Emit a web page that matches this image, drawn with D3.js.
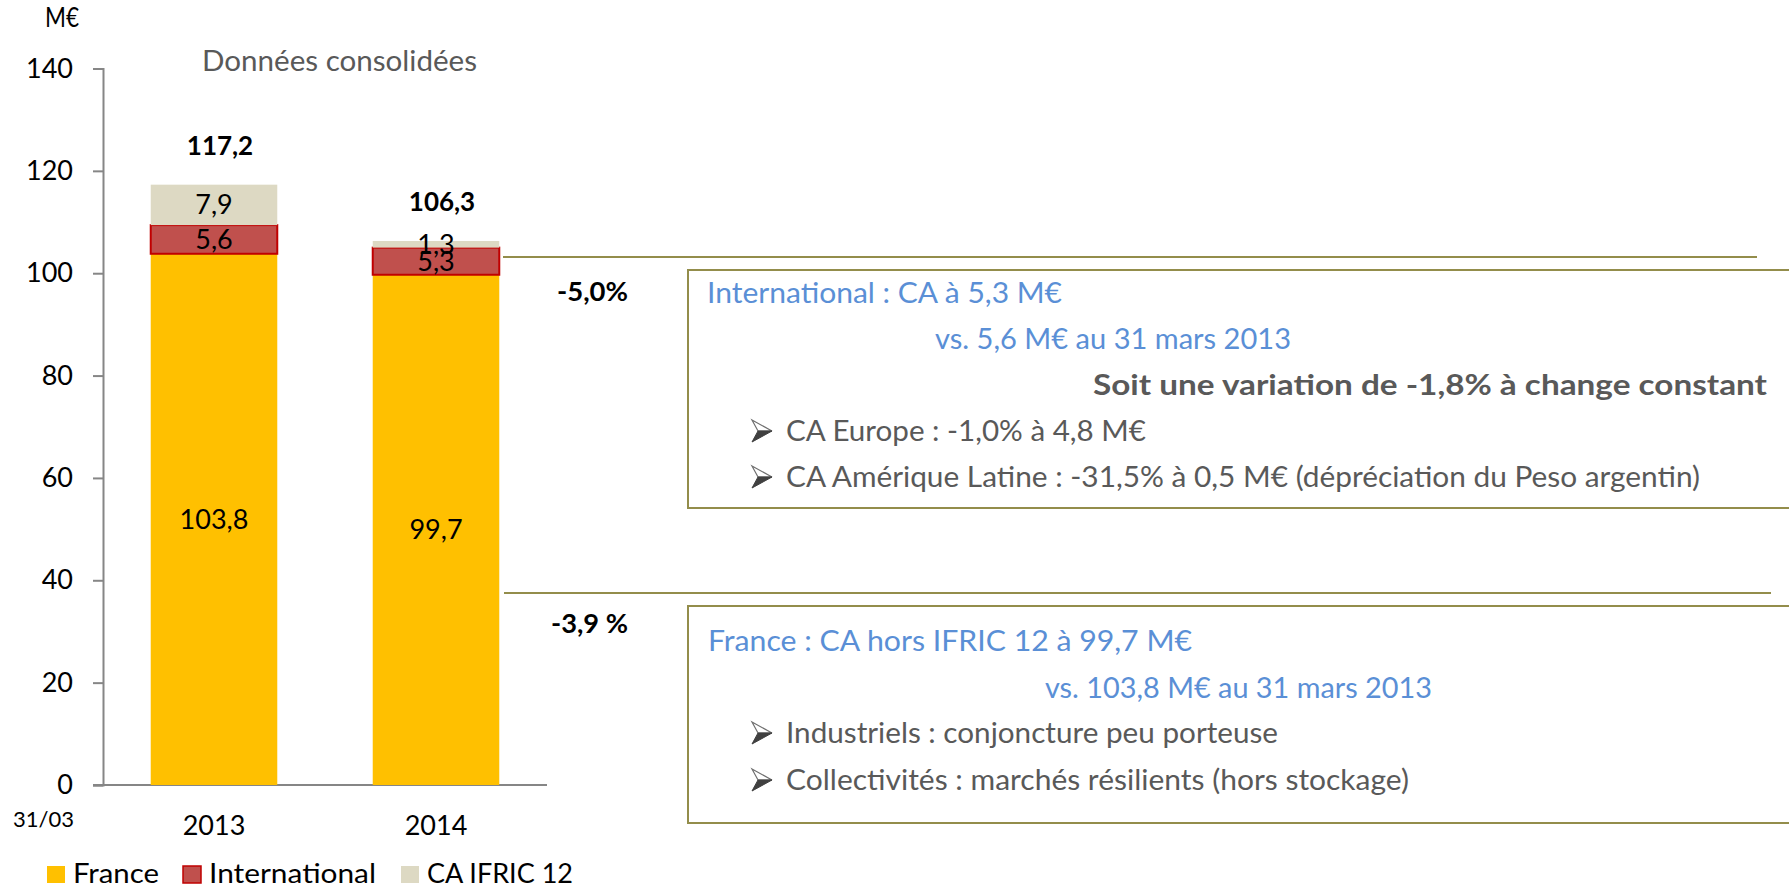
<!DOCTYPE html>
<html>
<head>
<meta charset="utf-8">
<script src="https://cdn.jsdelivr.net/npm/d3@7"></script>
<style>
  body { margin: 0; background: #fff; }
  svg { display: block; font-family: Lato, "Open Sans", sans-serif; }
</style>
</head>
<body>
<div id="chart"></div>
<script>
// Chiffre d'affaires au 31/03 - barres empilées + commentaires
const years = ["2013", "2014"];
const france = [103.8, 99.7];
const international = [5.6, 5.3];
const ifric = [7.9, 1.3];
const totals = [117.2, 106.3];
const yTicks = [0, 20, 40, 60, 80, 100, 120, 140];
const seriesNames = ["France", "International", "CA IFRIC 12"];
const variations = ["-5,0%", "-3,9 %"];

const width = 1789, height = 888;
const colors = { France: "#FFC000", International: "#C0504D", "CA IFRIC 12": "#DDD9C3" };
const olive = "#938D4B";
const blue = "#5A8FD6";
const grey = "#595959";

const svg = d3.select("#chart").append("svg")
    .attr("width", width)
    .attr("height", height);

const x = d3.scaleBand()
    .domain(years)
    .range([103, 547])
    .paddingInner(0.43)
    .paddingOuter(0.215);

const y = d3.scaleLinear()
    .domain([0, 140])
    .range([785, 68.5]);

const rows = years.map((yr, i) => ({
    year: yr,
    France: france[i],
    International: international[i],
    "CA IFRIC 12": ifric[i],
    total: totals[i]
}));

const stack = d3.stack().keys(seriesNames)(rows);

// axes
const yAxis = svg.append("g")
    .attr("transform", "translate(103,0)")
    .call(d3.axisLeft(y).tickValues(yTicks).tickSize(10).tickPadding(20));
yAxis.select(".domain").attr("stroke", "#868686").attr("stroke-width", 2);
yAxis.selectAll(".tick line").attr("stroke", "#868686").attr("stroke-width", 2);
yAxis.selectAll(".tick text")
    .style("font-family", "Lato, sans-serif")
    .style("font-size", "27px")
    .attr("fill", "#000");

svg.append("line")
    .attr("x1", 93).attr("x2", 547)
    .attr("y1", y(0)).attr("y2", y(0))
    .attr("stroke", "#868686").attr("stroke-width", 2);

// bars
svg.selectAll("g.layer")
    .data(stack)
    .join("g")
    .attr("class", "layer")
    .attr("fill", d => colors[d.key])
    .attr("stroke", d => d.key === "International" ? "#C00000" : "none")
    .attr("stroke-width", 2)
    .selectAll("rect")
    .data(d => d)
    .join("rect")
    .attr("x", d => x(d.data.year))
    .attr("width", x.bandwidth())
    .attr("y", d => y(d[1]))
    .attr("height", d => y(d[0]) - y(d[1]));

// segment labels
stack.forEach(layer => {
    svg.selectAll(null)
        .data(layer)
        .join("text")
        .attr("x", d => x(d.data.year) + x.bandwidth() / 2)
        .attr("y", d => y((d[0] + d[1]) / 2))
        .attr("dy", "0.35em")
        .attr("text-anchor", "middle")
        .style("font-size", "27px")
        .attr("fill", "#000")
        .text(d => d3.format(".1f")(d[1] - d[0]).replace(".", ","));
});

// totals
svg.selectAll("text.total")
    .data(rows)
    .join("text")
    .attr("class", "total")
    .attr("x", d => x(d.year) + x.bandwidth() / 2 + 6)
    .attr("y", d => y(d.total) - 30)
    .attr("text-anchor", "middle")
    .style("font-size", "26px")
    .style("font-weight", "bold")
    .text(d => d3.format(".1f")(d.total).replace(".", ","));

// x labels
svg.selectAll("text.xlab")
    .data(years)
    .join("text")
    .attr("class", "xlab")
    .attr("x", d => x(d) + x.bandwidth() / 2)
    .attr("y", 835)
    .attr("text-anchor", "middle")
    .style("font-size", "27px")
    .text(d => d);

svg.append("text").attr("x", 13).attr("y", 827)
    .style("font-size", "22px").text("31/03");
svg.append("text").attr("x", 45).attr("y", 27)
    .style("font-size", "27px")
    .attr("textLength", 34).attr("lengthAdjust", "spacingAndGlyphs")
    .text("M€");
svg.append("text").attr("x", 202).attr("y", 71)
    .style("font-size", "29px").attr("fill", grey)
    .attr("textLength", 275).attr("lengthAdjust", "spacingAndGlyphs")
    .text("Données consolidées");

// legend
const legendX = [47, 183, 401];
const legendW = [86, 167, 146];
const lg = svg.selectAll("g.legend")
    .data(seriesNames)
    .join("g")
    .attr("class", "legend")
    .attr("transform", (d, i) => `translate(${legendX[i]},866)`);
lg.append("rect")
    .attr("width", 18).attr("height", 17)
    .attr("fill", d => colors[d])
    .attr("stroke", d => d === "International" ? "#C00000" : "none")
    .attr("stroke-width", 1.5);
lg.append("text")
    .attr("x", 26).attr("y", 17)
    .style("font-size", "27px")
    .attr("textLength", (d, i) => legendW[i])
    .attr("lengthAdjust", "spacingAndGlyphs")
    .text(d => d);

// connecting lines
svg.append("line")
    .attr("x1", 503).attr("x2", 1757)
    .attr("y1", 257).attr("y2", 257)
    .attr("stroke", olive).attr("stroke-width", 2);
svg.append("line")
    .attr("x1", 504).attr("x2", 1771)
    .attr("y1", 593).attr("y2", 593)
    .attr("stroke", olive).attr("stroke-width", 2);

// variation labels
svg.append("text").attr("x", 557).attr("y", 301)
    .style("font-size", "26px").style("font-weight", "bold")
    .attr("textLength", 71).attr("lengthAdjust", "spacingAndGlyphs")
    .text(variations[0]);
svg.append("text").attr("x", 551).attr("y", 633)
    .style("font-size", "26px").style("font-weight", "bold")
    .attr("textLength", 77).attr("lengthAdjust", "spacingAndGlyphs")
    .text(variations[1]);

// comment boxes
svg.append("rect").attr("x", 688).attr("y", 270).attr("width", 1110).attr("height", 238)
    .attr("fill", "none").attr("stroke", olive).attr("stroke-width", 2);
svg.append("rect").attr("x", 688).attr("y", 606).attr("width", 1110).attr("height", 217)
    .attr("fill", "none").attr("stroke", olive).attr("stroke-width", 2);

const lines1 = [
    { x: 707, y: 303, text: "International : CA à 5,3 M€", fill: blue, w: 355 },
    { x: 935, y: 349, text: "vs. 5,6 M€ au 31 mars 2013", fill: blue, w: 356 },
    { x: 1093, y: 395, text: "Soit une variation de -1,8% à change constant", fill: grey, bold: true, w: 674 },
    { x: 786, y: 441, text: "CA Europe : -1,0% à 4,8 M€", fill: grey, arrow: true, w: 360 },
    { x: 786, y: 487, text: "CA Amérique Latine : -31,5% à 0,5 M€ (dépréciation du Peso argentin)", fill: grey, arrow: true, w: 914 },
    { x: 708, y: 651, text: "France : CA hors IFRIC 12 à 99,7 M€", fill: blue, w: 484 },
    { x: 1045, y: 698, text: "vs. 103,8 M€ au 31 mars 2013", fill: blue, w: 387 },
    { x: 786, y: 743, text: "Industriels : conjoncture peu porteuse", fill: grey, arrow: true, w: 492 },
    { x: 786, y: 790, text: "Collectivités : marchés résilients (hors stockage)", fill: grey, arrow: true, w: 623 }
];

lines1.forEach(l => {
    svg.append("text")
        .attr("x", l.x).attr("y", l.y)
        .attr("fill", l.fill)
        .style("font-size", "28px")
        .style("font-weight", l.bold ? "bold" : "normal")
        .attr("textLength", l.w)
        .attr("lengthAdjust", "spacingAndGlyphs")
        .text(l.text);
    if (l.arrow) {
        // puce flèche style Office
        const g = svg.append("g").attr("transform", `translate(752,${l.y - 21})`);
        g.append("path").attr("d", "M0,0 L20,11 L6,11 Z")
            .attr("fill", "#fff").attr("stroke", "#6f6f6f").attr("stroke-width", 1.2);
        g.append("path").attr("d", "M6,11 L20,11 L0,22 Z")
            .attr("fill", "#404040").attr("stroke", "#404040").attr("stroke-width", 1);
    }
});
</script>
</body>
</html>
